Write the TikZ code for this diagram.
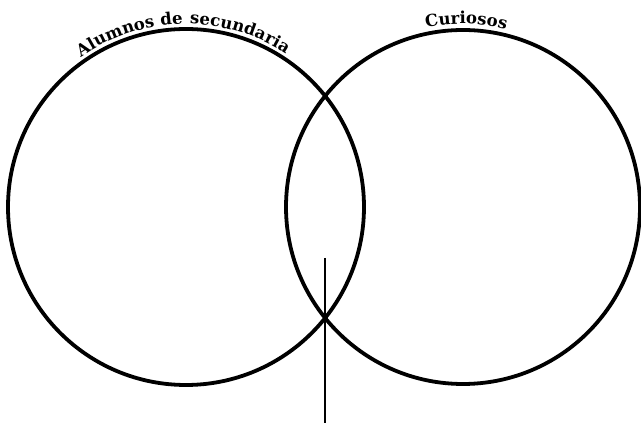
\documentclass[tikz,border=0pt]{standalone}
\usepackage{fontspec}
\usetikzlibrary{decorations.text, calc}

\newfontfamily\setnamefamily{DejaVu Serif}
\newcommand{\setnamefont}{\setnamefamily\fontsize{16.5}{18}\selectfont\bfseries}

\begin{document}
\begin{tikzpicture}[x=1pt, y=1pt,
    setcircle/.style={draw, circle, line width=3.8pt, minimum size=#1, inner sep=0pt},
    setcircle/.default=356pt,
    arclabel/.style={decorate,
        decoration={text along path, text align=center, text={|\setnamefont|#1}}},
    pointer/.style={line width=1.2pt}
]
\useasboundingbox (0,0) rectangle (641,423);

% --- Sets ---
\node[setcircle] (alumnos) at (186,216) {};
\node[setcircle=354pt] (curiosos) at (463,216) {};

% --- Set names, bent along the rims ---
\def\Rt{183} % baseline radius of the names
\path[arclabel={Alumnos{\hspace{6pt}}de{\hspace{7pt}}secundaria}]
    ($(alumnos.center)+(127:\Rt)$) arc[start angle=127, end angle=55, radius=\Rt];
\path[arclabel={Curiosos}]
    ($(curiosos.center)+(102:\Rt)$) arc[start angle=102, end angle=76, radius=\Rt];

% --- Pointer line through the lower crossing ---
\coordinate (tip) at (325,165);
\coordinate (foot) at (325,0);
\draw[pointer] (tip) -- (foot);

\end{tikzpicture}
\end{document}
